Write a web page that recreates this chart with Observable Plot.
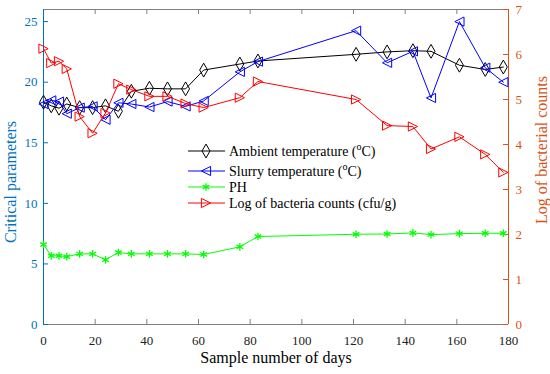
<!DOCTYPE html>
<html><head><meta charset="utf-8">
<script src="https://cdn.jsdelivr.net/npm/d3@7"></script>
<script src="https://cdn.jsdelivr.net/npm/@observablehq/plot@0.6"></script>
<style>body{margin:0;background:#fff} svg{display:block} svg text{font-family:'Liberation Serif','Times New Roman',serif !important}</style>
</head><body><div id="chart"></div>
<script>
const days = [0,3,6,9,14,19,24,29,34,41,48,55,62,76,83,121,133,143,150,161,171,178];
const ambient = [18.35,18.05,17.85,18.2,17.9,17.9,18.05,17.6,19.25,19.5,19.45,19.45,21.0,21.5,21.75,22.3,22.5,22.6,22.55,21.4,21.05,21.25];
const slurry = [18.2,18.5,18.4,17.4,17.9,18.0,16.9,18.3,18.2,17.95,18.4,18.0,18.45,20.85,21.7,24.25,21.6,22.55,18.7,25.0,21.2,20.0];
const ph = [6.6,5.67,5.67,5.6,5.83,5.83,5.34,5.94,5.83,5.83,5.83,5.83,5.78,6.41,7.26,7.45,7.47,7.56,7.42,7.5,7.53,7.53];
const bacteria = [6.13,5.81,5.85,5.68,4.62,4.25,4.7,5.35,5.22,5.07,5.07,4.91,4.82,5.04,5.4,5.0,4.42,4.4,3.9,4.17,3.78,3.38];
const xTicks = [0,20,40,60,80,100,120,140,160,180];
const leftTicks = [0,5,10,15,20,25];
const rightTicks = [0,1,2,3,4,5,6,7];
const seriesNames = ["Ambient temperature (", "Slurry temperature (", "PH", "Log of bacteria counts (cfu/g)"];

const L = "#0072bd", R = "#d95319", G = "#808080";
const k = 26/7;
const rows = days.map((d,i)=>({d, a: ambient[i], s: slurry[i], p: ph[i], b: bacteria[i]*k}));
const triLeft = {draw(ctx, size){const s=Math.sqrt(size/Math.PI)*1.15; ctx.moveTo(-s,0);ctx.lineTo(s,-s);ctx.lineTo(s,s);ctx.closePath();}};
const triRight = {draw(ctx, size){const s=Math.sqrt(size/Math.PI)*1.15; ctx.moveTo(s,0);ctx.lineTo(-s,-s);ctx.lineTo(-s,s);ctx.closePath();}};

const W=550,H=374,mL=43,mR=42,mT=9,mB=50;
const fw=W-mL-mR, fh=H-mT-mB;
const font = "'Liberation Serif', 'Times New Roman', serif";
const rD=4.2, rT=4.0, rA=3.6;
const plot = Plot.plot({
  width:W, height:H, marginLeft:mL, marginRight:mR, marginTop:mT, marginBottom:mB,
  style:{fontFamily:font, fontSize:"13px", background:"#fff", color:"#000"},
  x:{domain:[0,180]}, y:{domain:[0,26]},
  marks:[
    Plot.ruleY([0],{stroke:G}),
    Plot.ruleY([26],{stroke:G}),
    Plot.tickX(xTicks,{x:d=>d, stroke:G, insetTop:fh-5}),
    Plot.tickX(xTicks,{x:d=>d, stroke:G, insetBottom:fh-5}),
    Plot.tickY(leftTicks,{y:d=>d, stroke:L, insetRight:fw-5}),
    Plot.tickY(rightTicks.map(v=>v*k),{y:d=>d, stroke:R, insetLeft:fw-5}),
    Plot.ruleX([0],{stroke:L}),
    Plot.ruleX([180],{stroke:R}),
    Plot.axisX(xTicks,{tickSize:0, tickPadding:11, label:null, fontSize:13, fill:"#222"}),
    Plot.axisY(leftTicks,{anchor:"left", tickSize:0, tickPadding:6, label:null, color:L, fontSize:13}),
    Plot.axisY(rightTicks.map(v=>v*k),{anchor:"right", tickSize:0, tickPadding:7, label:null, color:R, fontSize:13, tickFormat:v=>String(Math.round(v/k))}),
    Plot.line(rows,{x:"d", y:"a", stroke:"#000", strokeWidth:1}),
    Plot.dot(rows,{x:"d", y:"a", symbol:"diamond", r:rD, stroke:"#000", fill:"none", strokeWidth:1}),
    Plot.line(rows,{x:"d", y:"s", stroke:"#0000ff", strokeWidth:1}),
    Plot.dot(rows,{x:"d", y:"s", symbol:triLeft, r:rT, stroke:"#0000ff", fill:"none", strokeWidth:1}),
    Plot.line(rows,{x:"d", y:"p", stroke:"#00ff00", strokeWidth:1}),
    Plot.dot(rows,{x:"d", y:"p", symbol:"asterisk", r:rA, stroke:"#00ff00", fill:"none", strokeWidth:1.3}),
    Plot.line(rows,{x:"d", y:"b", stroke:"#ff0000", strokeWidth:1}),
    Plot.dot(rows,{x:"d", y:"b", symbol:triRight, r:rT, stroke:"#ff0000", fill:"none", strokeWidth:1})
  ]
});
document.getElementById("chart").appendChild(plot);
const svg = d3.select(plot);
svg.append("text").attr("x", 276).attr("y", 363).attr("text-anchor","middle")
  .attr("font-size",16).attr("fill","#000").text("Sample number of days");
svg.append("text").attr("transform",`translate(16,182) rotate(-90)`).attr("text-anchor","middle")
  .attr("font-size",16).attr("fill",L).text("Critical parameters");
svg.append("text").attr("transform",`translate(547,150) rotate(-90)`).attr("text-anchor","middle")
  .attr("font-size",16).attr("fill",R).text("Log of bacterial counts");

// legend
const lg = svg.append("g").attr("font-size",14).attr("text-anchor","start");
const items = [
  {y:151, c:"#000", sym:d3.symbol(d3.symbolDiamond, Math.PI*rD*rD)(), name:seriesNames[0], sup:true},
  {y:171, c:"#0000ff", sym:d3.symbol(triLeft, Math.PI*rT*rT)(), name:seriesNames[1], sup:true},
  {y:187, c:"#00ff00", sym:d3.symbol(d3.symbolAsterisk, Math.PI*rA*rA)(), name:seriesNames[2], sup:false},
  {y:203, c:"#ff0000", sym:d3.symbol(triRight, Math.PI*rT*rT)(), name:seriesNames[3], sup:false}
];
for (const it of items) {
  lg.append("line").attr("x1",188).attr("x2",225).attr("y1",it.y).attr("y2",it.y).attr("stroke",it.c);
  lg.append("path").attr("d",it.sym).attr("transform",`translate(206,${it.y})`).attr("fill","none").attr("stroke",it.c).attr("stroke-width", it.c==="#00ff00"?1.3:1);
  const t = lg.append("text").attr("x",229).attr("y",it.y).attr("dy","0.35em").attr("fill","#000").attr("text-anchor","start");
  t.append("tspan").text(it.name);
  if (it.sup) {
    t.append("tspan").attr("font-size",10).attr("dy","-0.6em").text("o");
    t.append("tspan").attr("dy","0.42em").text("C)");
  }
}
</script></body></html>
